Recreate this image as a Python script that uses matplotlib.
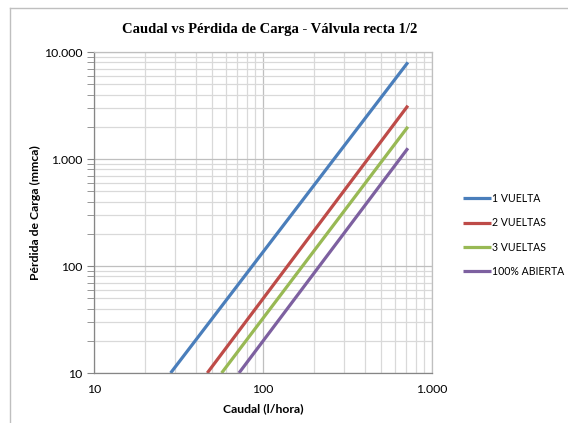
import matplotlib.pyplot as plt
from matplotlib.ticker import FuncFormatter, LogLocator, NullFormatter
from matplotlib.lines import Line2D

# caudal (l/hora) at start and end of each series
series = ["1 VUELTA", "2 VUELTAS", "3 VUELTAS", "100% ABIERTA"]
caudal_1 = [28.4, 720]
perdida_1 = [10, 8000]
caudal_2 = [46.8, 720]
perdida_2 = [10, 3150]
caudal_3 = [56.9, 720]
perdida_3 = [10, 2000]
caudal_4 = [72.1, 720]
perdida_4 = [10, 1260]

colors = ["#4A7EBB", "#BE4B48", "#98B954", "#7D60A0"]

plt.rcParams['font.family'] = ['Lato', 'DejaVu Sans']

fig = plt.figure(figsize=(5.68, 4.23), dpi=100)
ax = fig.add_axes([94/568, 1 - 373/423, (432-94)/568, (373-52)/423])

for x, y, lab, c in zip([caudal_1, caudal_2, caudal_3, caudal_4],
                        [perdida_1, perdida_2, perdida_3, perdida_4],
                        series, colors):
  ax.plot(x, y, color=c, lw=2.3, label=lab, solid_capstyle='butt')

ax.set_xscale('log')
ax.set_yscale('log')
ax.set_xlim(10, 1000)
ax.set_ylim(10, 10000)

fmt = FuncFormatter(lambda v, p: f"{int(round(v)):,}".replace(",", "."))
ax.xaxis.set_major_formatter(fmt)
ax.yaxis.set_major_formatter(fmt)
ax.xaxis.set_minor_locator(LogLocator(base=10, subs=range(2, 10)))
ax.yaxis.set_minor_locator(LogLocator(base=10, subs=range(2, 10)))
ax.xaxis.set_minor_formatter(NullFormatter())
ax.yaxis.set_minor_formatter(NullFormatter())

ax.grid(which='major', color='#BFBFBF', lw=0.9)
ax.grid(which='minor', color='#D9D9D9', lw=0.9)
ax.set_axisbelow(True)
for s in ax.spines.values():
  s.set_color('#BFBFBF')
  s.set_linewidth(0.9)
ax.spines['left'].set_color('#868686')
ax.spines['bottom'].set_color('#868686')

ax.tick_params(axis='x', which='both', length=0, labelsize=8.8, pad=8)
ax.tick_params(axis='y', which='major', length=5, color='#868686', labelsize=8.8)
ax.tick_params(axis='y', which='minor', length=5, color='#868686')

ax.set_xlabel("Caudal (l/hora)", fontsize=8.8, fontweight='bold', labelpad=6)
ax.set_ylabel("Pérdida de Carga (mmca)", fontsize=8.8, fontweight='bold', labelpad=2)

fig.text(270/568, 1 - 30/423, "Caudal vs Pérdida de Carga - Válvula recta 1/2",
         ha='center', va='center', fontsize=10.5, fontweight='bold',
         family=['Liberation Serif', 'DejaVu Serif'])

ax.legend(loc='center left', bbox_to_anchor=(1.065, 0.43), frameon=False,
          fontsize=7.6, handlelength=2.6, labelspacing=1.25, handletextpad=0.15)

# chart area border: only top and left edges are visible in the reference
fig.add_artist(Line2D([10/568, 1], [1 - 8/423, 1 - 8/423],
                      transform=fig.transFigure, color='#BFBFBF', lw=1))
fig.add_artist(Line2D([10/568, 10/568], [0, 1 - 8/423],
                      transform=fig.transFigure, color='#BFBFBF', lw=1))

fig.savefig("out.png", dpi=100)
